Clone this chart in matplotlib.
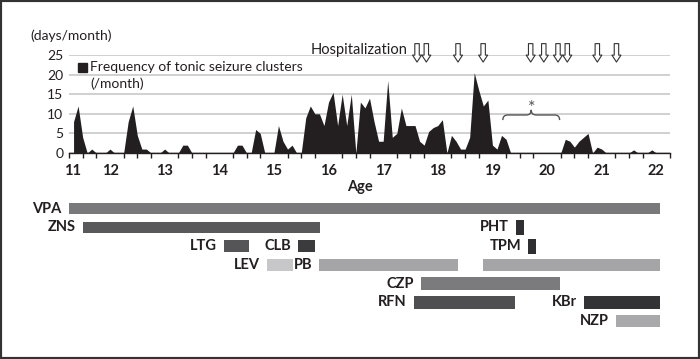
import numpy as np
import matplotlib.pyplot as plt
from matplotlib.path import Path
from matplotlib.patches import PathPatch, Rectangle
from matplotlib.ticker import MultipleLocator

plt.rcParams['font.family'] = ['Lato', 'DejaVu Sans']

# monthly frequency of tonic seizure clusters, first value at age 11y 4m
first_month = 4
freq = [8, 12, 4, 0, 1, 0, 0, 0, 1, 0, 0, 0,
        8, 12, 4.5, 1, 1, 0, 0, 0, 1, 0, 0, 0,
        2, 2, 0, 0, 0, 0, 0, 0, 0, 0, 0, 0,
        2, 2, 0, 0, 6, 5, 0, 0, 0, 7, 3, 1,
        2, 0, 0, 9, 12, 10, 10, 7, 13, 15.5, 7, 15,
        7, 15, 0, 13, 11.5, 14, 8, 3, 3, 18.5, 4, 5,
        11.5, 7, 7, 7, 3, 2, 5.5, 6.5, 7, 8.5, 0, 4.5,
        3, 1, 1, 4, 20.5, 16, 12, 13.5, 2, 1, 4.5, 3.5,
        0, 0, 0, 0, 0, 0, 0, 0, 0, 0, 0, 0,
        3.5, 3, 1.5, 3, 4, 5, 0, 1.5, 1, 0, 0, 0,
        0, 0, 0, 0.8, 0, 0, 0, 0.8, 0]
ages = 11 + (first_month + np.arange(len(freq))) / 12

# hospitalization times (age)
hosp = [17.62, 17.79, 18.37, 18.83, 19.70, 19.94, 20.20, 20.37, 20.92, 21.27]

# bracketed period marked with *
bracket = [19.19, 20.23]

# antiepileptic drugs: name, start age, end age
drugs = ['VPA', 'ZNS', 'LTG', 'CLB', 'LEV', 'PB', 'PB', 'PHT', 'TPM',
         'CZP', 'RFN', 'KBr', 'NZP']
starts = [11.24, 11.50, 14.09, 15.44, 14.87, 15.83, 18.82, 19.43, 19.65,
          17.70, 17.56, 20.67, 21.26]
ends = [22.06, 15.85, 14.55, 15.75, 15.35, 18.37, 22.06, 19.58, 19.79,
        20.23, 19.41, 22.06, 22.06]
rows = [0, 1, 2, 2, 3, 3, 3, 1, 2, 4, 5, 5, 6]
heights = [0.58, 0.62, 0.64, 0.64, 0.66, 0.66, 0.66, 0.78, 0.8,
           0.68, 0.7, 0.7, 0.62]
colors = ['#79797b', '#59595b', '#555557', '#3b3b3d', '#c7c7c9', '#a5a5a7',
          '#a5a5a7', '#2f2f31', '#2f2f31', '#7b7b7d', '#4f4f51', '#333335',
          '#a9a9ab']
show_label = [True, True, True, True, True, True, False, True, True,
              True, True, True, True]

fig = plt.figure(figsize=(7, 3.59), dpi=100)

# ---- seizure frequency chart ----
ax = fig.add_axes([69 / 700, 1 - 153 / 359, 601 / 700, 98 / 359])
ax.fill_between(ages, 0, freq, color='#231f20', lw=0, zorder=3)
ax.set_xlim(11.25, 22.25)
ax.set_ylim(0, 25)
ax.set_yticks(range(0, 26, 5))
ax.yaxis.grid(True, color='#c8c8c8', lw=1.2)
ax.set_axisbelow(True)
for s in ['left', 'right', 'top']:
    ax.spines[s].set_visible(False)
ax.spines['bottom'].set_color('#231f20')
ax.spines['bottom'].set_linewidth(1.0)
ax.spines['bottom'].set_zorder(4)

xlab_pos = [11.32] + list(range(12, 23))
xlab = [str(a) for a in range(11, 23)]
ax.set_xticks(xlab_pos)
ax.set_xticklabels(xlab, fontsize=10.5, fontweight='bold', color='#231f20')
ax.xaxis.set_minor_locator(MultipleLocator(0.25))
ax.tick_params(axis='x', which='major', length=0, pad=8)
ax.tick_params(axis='x', which='minor', length=3.5, width=1, color='#231f20')
ax.tick_params(axis='y', length=0, pad=4, labelsize=10, labelcolor='#231f20')
ax.set_xlabel('Age', fontsize=10.5, fontweight='bold', color='#231f20',
              x=(360 - 69) / 601, labelpad=1)

ax.text(-39 / 601, 1.0 + 19 / 98, '(days/month)', transform=ax.transAxes,
        fontsize=10, color='#231f20', va='center', ha='left')

# legend
ax.add_patch(Rectangle((9 / 601, (153 - 72) / 98), 9 / 601, 9 / 98,
                       transform=ax.transAxes, color='#231f20', zorder=5))
ax.text(21 / 601, (153 - 67) / 98, 'Frequency of tonic seizure clusters',
        transform=ax.transAxes, fontsize=10, color='#231f20',
        va='center', ha='left')
ax.text(21 / 601, (153 - 84) / 98, '(/month)', transform=ax.transAxes,
        fontsize=10, color='#231f20', va='center', ha='left')

# hospitalization arrows
ax.text(17.45, 26.2, 'Hospitalization', fontsize=10.5, color='#231f20',
        ha='right', va='center')
for h in hosp:
    ax.annotate('', xy=(h, 23.2), xytext=(h, 27.9), annotation_clip=False,
                arrowprops=dict(arrowstyle='simple,head_length=0.5,'
                                'head_width=0.65,tail_width=0.32',
                                fc='white', ec='#333333', lw=0.8,
                                mutation_scale=10, shrinkA=0, shrinkB=0))

# curly bracket with asterisk
x0, x1 = bracket
xm = (x0 + x1) / 2
dx = 0.09
yb, yl, yt = 8.4, 9.7, 11.0
verts = [(x0, yb), (x0, yl), (x0 + dx, yl), (xm - dx, yl), (xm, yl), (xm, yt),
         (xm, yl), (xm + dx, yl), (x1 - dx, yl), (x1, yl), (x1, yb)]
codes = [Path.MOVETO, Path.CURVE3, Path.CURVE3, Path.LINETO, Path.CURVE3,
         Path.CURVE3, Path.CURVE3, Path.CURVE3, Path.LINETO, Path.CURVE3,
         Path.CURVE3]
ax.add_patch(PathPatch(Path(verts, codes), fill=False, ec='#555555', lw=1.0))
ax.text(xm, 11.6, '*', fontsize=13, color='#555555', ha='center', va='center')

# ---- drug timeline ----
ax2 = fig.add_axes([69 / 700, 1 - 330.25 / 359, 601 / 700, 130.9 / 359])
ax2.set_xlim(11.25, 22.25)
ax2.set_ylim(6.5, -0.5)
ax2.axis('off')
for name, s, e, r, hgt, c, lab in zip(drugs, starts, ends, rows, heights,
                                      colors, show_label):
    ax2.barh(r, e - s, left=s, height=hgt, color=c, lw=0)
    if lab:
        ax2.annotate(name, xy=(s, r), xytext=(-5, 0),
                     textcoords='offset points', ha='right', va='center',
                     fontsize=10.5, fontweight='bold', color='#231f20',
                     annotation_clip=False)

fig.patches.append(Rectangle((0, 0), 1, 1, transform=fig.transFigure,
                             fill=False, ec='#333333', lw=3))

fig.savefig('out.png', dpi=100)
